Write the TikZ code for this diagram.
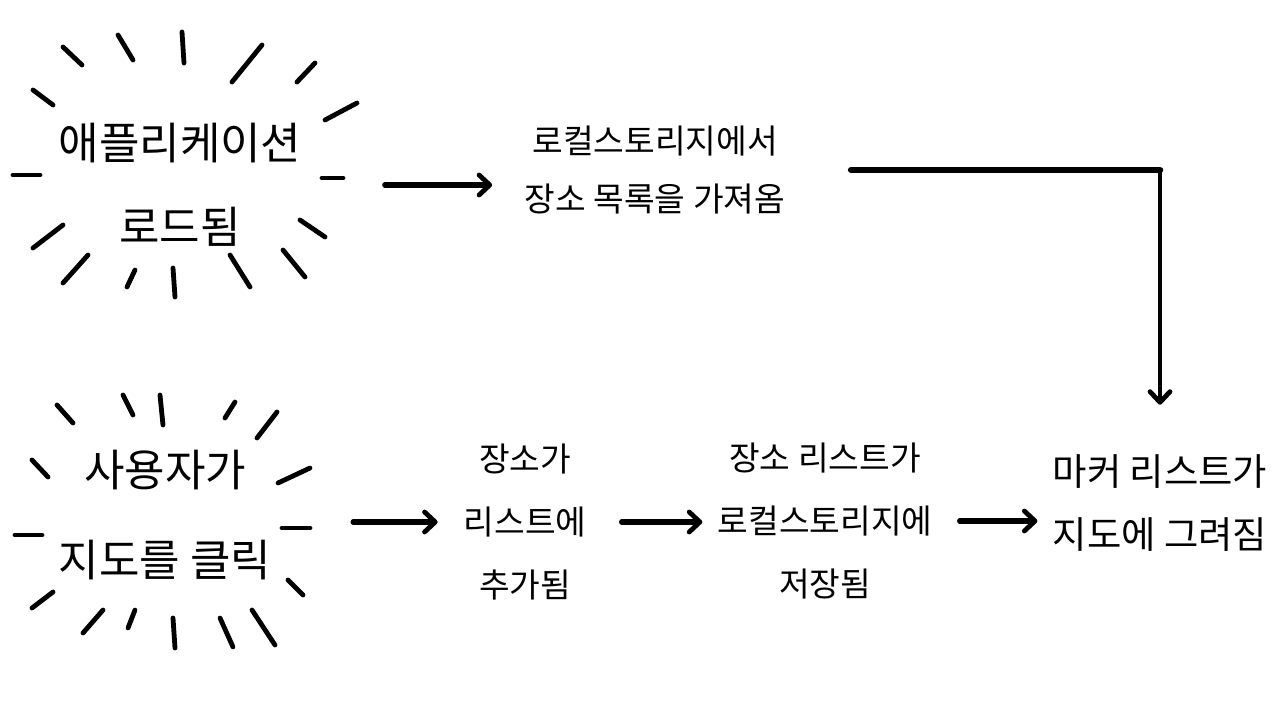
\documentclass[tikz,border=0pt]{standalone}
\usepackage{fontspec}
\setmainfont{Noto Sans CJK KR}
\usetikzlibrary{arrows.meta}
\tikzset{
  ray/.style={line width=3.6pt, line cap=round},
  arr/.style={line width=4pt, line cap=round, -{Straight Barb[round,length=8pt,width=15pt,line width=3.6pt]}},
  bigtxt/.style={align=center, font=\fontsize{33}{63}\selectfont},
  midtxt/.style={align=center, font=\fontsize{25}{47}\selectfont},
  endtxt/.style={align=center, font=\fontsize{28}{47}\selectfont},
}
\begin{document}
\begin{tikzpicture}[x=0.75pt,y=-0.75pt]
	\useasboundingbox (0,0) rectangle (1280,709);
	\node[bigtxt] (app)    at (180, 185) {애플리케이션\\로드됨};
	\node[midtxt, font=\fontsize{25}{44}\selectfont] (fetch) at (655, 170) {로컬스토리지에서\\장소 목록을 가져옴};
	\node[bigtxt, font=\fontsize{33}{67}\selectfont] (click) at (165, 515) {사용자가\\지도를 클릭};
	\node[midtxt] (added)  at (525, 522) {장소가\\리스트에\\추가됨};
	\node[midtxt] (saved)  at (825, 521) {장소 리스트가\\로컬스토리지에\\저장됨};
	\node[endtxt] (marker) at (1160, 503) {마커 리스트가\\지도에 그려짐};
	\coordinate (corner) at (marker.north |- fetch.east);

	\def\burstA {63/47/82/65, 118/35/133/60, 182/32/184/63, 262/45/232/82, 315/63/297/82,
	33/90/53/105, 357/103/325/120, 13/175/40/175, 322/178/343/178, 63/225/33/248,
	300/220/325/237, 88/255/63/283, 135/270/127/287, 173/268/175/297, 230/255/250/287,
	283/250/305/277}  % rays round the first event
	\foreach \xa/\ya/\xb/\yb in \burstA
	{	\draw[ray] (\xa,\ya) -- (\xb,\yb);
	}
	\def\burstB {57/405/73/423, 123/395/133/415, 160/395/163/425, 235/402/225/418,
	277/412/257/438, 32/460/48/477, 310/468/278/483, 15/535/42/535, 282/528/310/528,
	53/592/32/608, 288/580/303/595, 103/610/83/633, 135/610/128/628, 173/618/175/648,
	220/618/233/647, 252/610/275/645}  % rays round the second event
	\foreach \xa/\ya/\xb/\yb in \burstB
	{	\draw[ray] (\xa,\ya) -- (\xb,\yb);
	}

	\draw[arr, shorten <=59pt, shorten >=21pt] (app.east) -- (fetch.west |- app.east);
	\draw[line width=5pt, line cap=round, shorten <=46pt] (fetch.east) -- (corner);
	\draw[arr, line width=3pt, shorten >=34pt] (corner) -- (marker.north);
	\draw[arr, shorten <=58pt, shorten >=16pt] (added.west -| click.east) -- (added.west);
	\draw[arr, shorten <=23pt, shorten >=8pt] (added.east) -- (saved.west |- added.east);
	\draw[arr, shorten <=17pt, shorten >=8pt] (saved.east) -- (marker.west |- saved.east);
\end{tikzpicture}
\end{document}
